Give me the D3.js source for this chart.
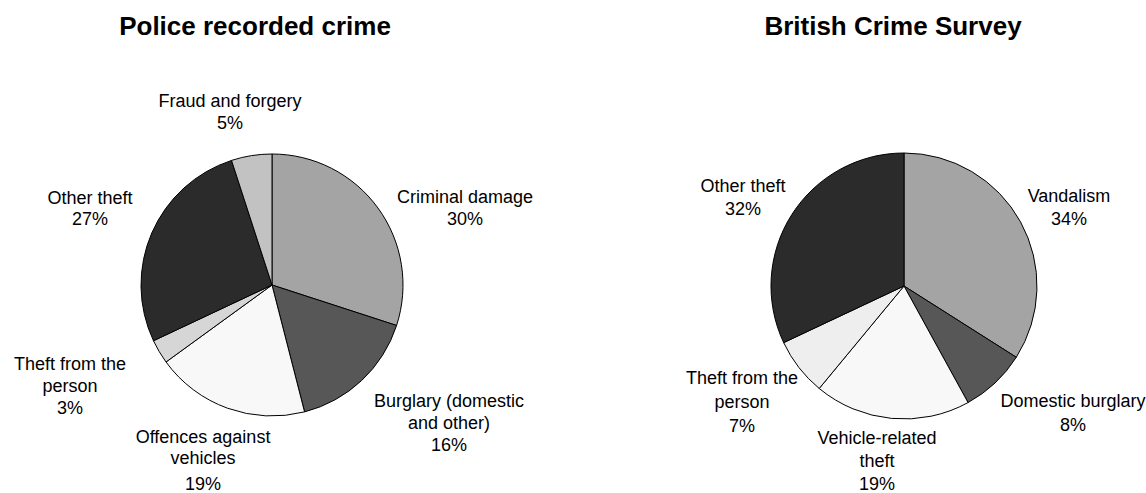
<!DOCTYPE html>
<html>
<head>
<meta charset="utf-8">
<script src="https://cdn.jsdelivr.net/npm/d3@7"></script>
<style>
  html, body { margin: 0; padding: 0; background: #fff; }
  svg { display: block; font-family: Arial, "Liberation Sans", sans-serif; }
</style>
</head>
<body>
<svg id="chart" width="1146" height="493"></svg>
<script>
// Police recorded crime: share of offences by type (%)
const policeCategories = ["Criminal damage", "Burglary (domestic and other)", "Offences against vehicles", "Theft from the person", "Other theft", "Fraud and forgery"];
const policeValues = [30, 16, 19, 3, 27, 5];
const policeLabelLines = [["Criminal damage"], ["Burglary (domestic", "and other)"], ["Offences against", "vehicles"], ["Theft from the", "person"], ["Other theft"], ["Fraud and forgery"]];

// British Crime Survey: share of incidents by type (%)
const bcsCategories = ["Vandalism", "Domestic burglary", "Vehicle-related theft", "Theft from the person", "Other theft"];
const bcsValues = [34, 8, 19, 7, 32];
const bcsLabelLines = [["Vandalism"], ["Domestic burglary"], ["Vehicle-related", "theft"], ["Theft from the", "person"], ["Other theft"]];

// Slice fills
const policeFills = ["#a4a4a4", "#575757", "#f8f8f8", "#d6d6d6", "#2b2b2b", "#c2c2c2"];
const bcsFills = ["#a4a4a4", "#575757", "#f8f8f8", "#eeeeee", "#2b2b2b"];

// Label layout relative to each pie centre:
// [centre x offset, first baseline offset, line height, extra gap before the value line]
const policeLabelLayout = [[193, -82, 21.5, 0], [177, 122, 22, 0], [-69, 157.5, 21, 5], [-202, 84.5, 22, 0], [-182, -81.5, 21.5, 0], [-42, -178.5, 22, 0]];
const bcsLabelLayout = [[165, -84.5, 23, 0], [169, 121, 24, 0], [-27, 158, 23, 0], [-162, 97.5, 24, 0], [-161, -94.5, 23, 0]];

const svg = d3.select("#chart");

function drawPie(cfg) {
  svg.append("text")
    .attr("x", cfg.titleX).attr("y", 35)
    .attr("text-anchor", "middle")
    .attr("font-size", 26).attr("font-weight", "bold")
    .attr("fill", "#000")
    .text(cfg.title);

  const g = svg.append("g").attr("transform", `translate(${cfg.cx},${cfg.cy})`);

  const pie = d3.pie().sort(null).value(d => d.value);
  const arc = d3.arc().innerRadius(0).outerRadius(cfg.r);
  const data = cfg.categories.map((c, i) => ({ name: c, value: cfg.values[i], fill: cfg.fills[i] }));
  const arcs = pie(data);

  g.selectAll("path.slice")
    .data(arcs)
    .join("path")
    .attr("class", "slice")
    .attr("d", arc)
    .attr("fill", d => d.data.fill)
    .attr("stroke", "#000")
    .attr("stroke-width", 1)
    .attr("stroke-linejoin", "round");

  g.selectAll("text.lbl")
    .data(arcs)
    .join("text")
    .attr("class", "lbl")
    .attr("text-anchor", "middle")
    .attr("font-size", 18)
    .attr("fill", "#000")
    .each(function (d, i) {
      const [lx, ly, lh, gap] = cfg.layout[i];
      const lines = cfg.labelLines[i].concat([d.data.value + "%"]);
      const t = d3.select(this);
      lines.forEach((ln, k) => {
        const extra = k === lines.length - 1 ? gap : 0;
        t.append("tspan")
          .attr("x", lx)
          .attr("y", ly + k * lh + extra)
          .text(ln);
      });
    });
}

drawPie({
  title: "Police recorded crime", titleX: 255,
  cx: 272, cy: 285, r: 131,
  categories: policeCategories, values: policeValues, fills: policeFills,
  labelLines: policeLabelLines, layout: policeLabelLayout
});

drawPie({
  title: "British Crime Survey", titleX: 893,
  cx: 904, cy: 286, r: 133,
  categories: bcsCategories, values: bcsValues, fills: bcsFills,
  labelLines: bcsLabelLines, layout: bcsLabelLayout
});
</script>
</body>
</html>
